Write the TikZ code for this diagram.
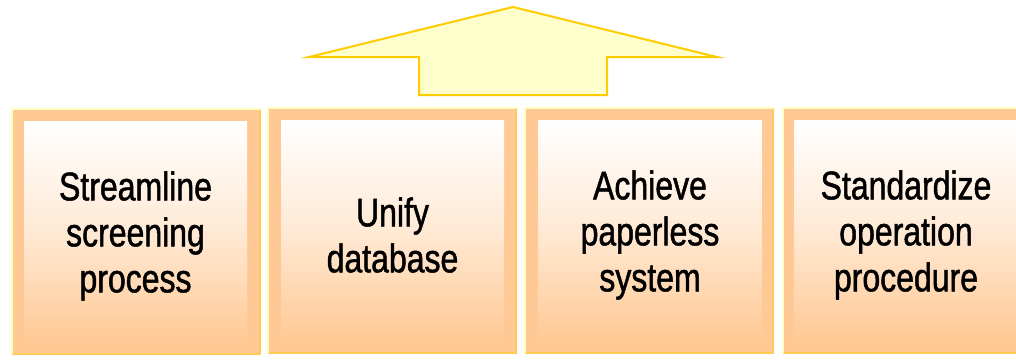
\documentclass[tikz,border=0pt]{standalone}
\usepackage{fontspec}
\newfontfamily\boxfont{Liberation Sans}[FakeStretch=0.8,FakeBold=1.2]
\definecolor{peach}{HTML}{FFC995}
\definecolor{gold}{HTML}{FFCC55}
\definecolor{paleyellow}{HTML}{FFFFC4}
\definecolor{arrowfill}{HTML}{FFFFCC}
\definecolor{arrowline}{HTML}{FFCC00}
\tikzset{
  frame/.style={rectangle, fill=peach, inner sep=0pt, minimum width=248, minimum height=245},
  panel/.style={rectangle, inner sep=0pt, minimum width=223, minimum height=220,
    top color=white, bottom color=peach, middle color=peach!40,
    font=\boxfont\fontsize{40}{46}\selectfont, align=center, text=black},
  litedge/.style={draw=paleyellow, line width=2},
  darkedge/.style={draw=gold, line width=2},
}
% bevelled outline of a frame node
\newcommand\bevelframe[1]{%
  \draw[darkedge] (#1.north east) -- (#1.south east) -- (#1.south west);
  \draw[litedge] (#1.south west) -- (#1.north west) -- (#1.north east);
}
\begin{document}
\begin{tikzpicture}[x=1pt,y=-1pt]
  \fill[white] (0,0) rectangle (1016,360);
  \useasboundingbox (0,0) rectangle (1016,360);

  % upward arrow
  \filldraw[fill=arrowfill, draw=arrowline, line width=2, line join=miter]
    (513,7) -- (717,57) -- (607,57) -- (607,95) -- (419,95) -- (419,57) -- (309,57) -- cycle;

  % outer frames
  \node[frame] (f1) at (136,231.5) {};
  \node[frame] (f2) at (392,230.5) {};
  \node[frame] (f3) at (649,230.5) {};
  \node[frame] (f4) at (907,230.5) {};
  \bevelframe{f1}\bevelframe{f2}\bevelframe{f3}\bevelframe{f4}

  % inner panels
  \node[panel] (p1) at (135.5,231) {};
  \node[panel] (p2) at (392.5,230) {};
  \node[panel] (p3) at (650,230) {};
  \node[panel] (p4) at (906,230) {};

  % labels
  \tikzset{label text/.style={font=\boxfont\fontsize{40}{46}\selectfont, align=center, text=black, inner sep=0pt}}
  \node[label text] (t1) at ([yshift=-5]p1.center) {Streamline\\screening\\process};
  \node[label text] (t2) at ([yshift=-5]p2.center) {Unify\\database};
  \node[label text] (t3) at ([yshift=-5]p3.center) {Achieve\\paperless\\system};
  \node[label text] (t4) at ([yshift=-5]p4.center) {Standardize\\operation\\procedure};
\end{tikzpicture}
\end{document}
